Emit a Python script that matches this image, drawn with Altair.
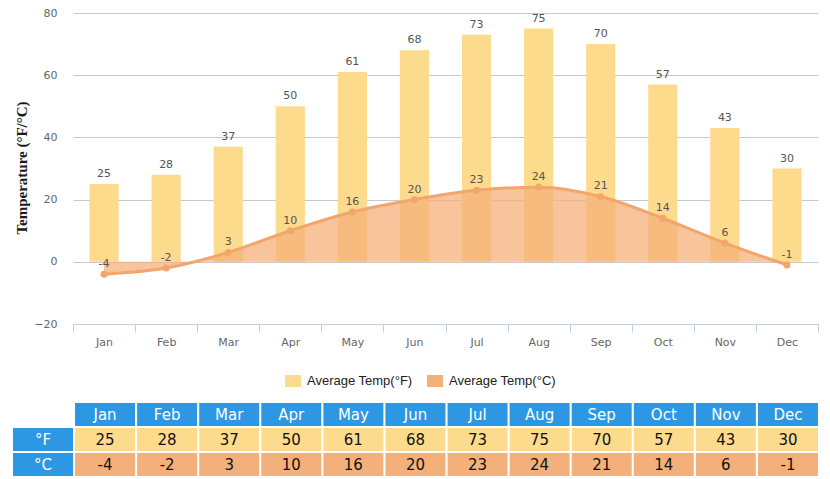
import altair as alt
import pandas as pd

months = ["Jan", "Feb", "Mar", "Apr", "May", "Jun", "Jul", "Aug", "Sep", "Oct", "Nov", "Dec"]
temp_f = [25, 28, 37, 50, 61, 68, 73, 75, 70, 57, 43, 30]
temp_c = [-4, -2, 3, 10, 16, 20, 23, 24, 21, 14, 6, -1]
series_names = ["Average Temp(°F)", "Average Temp(°C)"]
row_labels = ["°F", "°C"]
y_ticks = [-20, 0, 20, 40, 60, 80]

YELLOW = "#FDDB8C"
ORANGE = "#F4B07A"
LINE = "#F3A66C"
BLUE = "#2D97E4"

df = pd.DataFrame({
    "month": months,
    "f": temp_f,
    "c": temp_c,
    "f_txt": [str(v) for v in temp_f],
    "c_txt": [str(v) for v in temp_c],
})

W, H = 745, 311
TOP = 13  # absolute y of the plot top (page margin 8 + padding)


def ty(abs_y):
    return abs_y - TOP


def xenc():
    return alt.X(
        "month:N", sort=months, title=None,
        scale=alt.Scale(type="band", paddingInner=0, paddingOuter=0),
        axis=alt.Axis(labelAngle=0, tickBand="extent", domainColor="#C0D0E0",
                      tickColor="#C0D0E0", tickSize=8, labelColor="#666",
                      labelFont="DejaVu Sans", labelFontSize=11, labelPadding=4,
                      grid=False),
    )


def yenc(field):
    return alt.Y(
        field, title="Temperature (°F/°C)",
        scale=alt.Scale(domain=[-20, 80], nice=False, zero=False),
        axis=alt.Axis(values=y_ticks, domain=False, ticks=False, grid=True,
                      gridColor="#C8C8C8", labelColor="#666",
                      labelFont="DejaVu Sans", labelFontSize=11, labelPadding=16,
                      titleFont="Liberation Serif", titleFontSize=15,
                      titleFontWeight="bold", titleColor="#1a1a1a",
                      titleX=-44, titleY=ty(167.5)),
    )


color_scale = alt.Scale(domain=series_names, range=[YELLOW, ORANGE])
legend = alt.Legend(
    orient="none", legendX=212, legendY=ty(373), direction="horizontal", title=None,
    symbolType="M-1,-0.75H1V0.75H-1Z", symbolSize=256, symbolStrokeWidth=0,
    symbolOpacity=1, labelFont="Liberation Sans", labelFontSize=13,
    labelColor="#222", labelOffset=6, columnPadding=14, padding=0, labelLimit=300,
)


def cenc():
    return alt.Color("s:N", scale=color_scale, legend=legend)


base = alt.Chart(df)

bars = base.transform_calculate(s=f"'{series_names[0]}'").mark_bar(
    width=alt.RelativeBandSize(0.47)
).encode(x=xenc(), y=yenc("f:Q"), y2=alt.datum(0), color=cenc())

area = base.transform_calculate(s=f"'{series_names[1]}'").mark_area(
    opacity=0.75, interpolate="monotone"
).encode(x=xenc(), y=yenc("c:Q"), y2=alt.datum(0), color=cenc())

line = base.mark_line(
    color=LINE, strokeWidth=3, interpolate="monotone",
    point=alt.OverlayMarkDef(filled=True, size=50, color=LINE),
).encode(x=xenc(), y=yenc("c:Q"))

bar_lbl = base.mark_text(dy=-10, font="DejaVu Sans", fontSize=11, color="#555",
                         baseline="middle").encode(x=xenc(), y=yenc("f:Q"), text="f_txt:N")
pt_lbl = base.mark_text(dy=-10, font="DejaVu Sans", fontSize=11, color="#555",
                        baseline="middle").encode(x=xenc(), y=yenc("c:Q"), text="c_txt:N")

# table
header = base.mark_bar(width=60, xOffset=1, color=BLUE).encode(
    x=xenc(), y=alt.value(ty(403)), y2=alt.value(ty(426)))
header_txt = base.mark_text(xOffset=1, color="white", font="DejaVu Sans", fontSize=15,
                            baseline="middle").encode(x=xenc(), y=alt.value(ty(414.5)), text="month:N")
frow = base.mark_bar(width=60, xOffset=1, color=YELLOW).encode(
    x=xenc(), y=alt.value(ty(428)), y2=alt.value(ty(451)))
frow_txt = base.mark_text(xOffset=1, color="#111", font="DejaVu Sans", fontSize=15,
                          baseline="middle").encode(x=xenc(), y=alt.value(ty(439.5)), text="f_txt:N")
crow = base.mark_bar(width=60, xOffset=1, color=ORANGE).encode(
    x=xenc(), y=alt.value(ty(453)), y2=alt.value(ty(476)))
crow_txt = base.mark_text(xOffset=1, color="#111", font="DejaVu Sans", fontSize=15,
                          baseline="middle").encode(x=xenc(), y=alt.value(ty(464.5)), text="c_txt:N")

lab_f = pd.DataFrame({"label": [row_labels[0]]})
lab_c = pd.DataFrame({"label": [row_labels[1]]})
f_cell = alt.Chart(lab_f).mark_rect(color=BLUE).encode(
    x=alt.value(-60), x2=alt.value(0), y=alt.value(ty(428)), y2=alt.value(ty(451)))
f_cell_txt = alt.Chart(lab_f).mark_text(color="white", font="DejaVu Sans", fontSize=15,
                                        baseline="middle").encode(
    x=alt.value(-30), y=alt.value(ty(439.5)), text="label:N")
c_cell = alt.Chart(lab_c).mark_rect(color=BLUE).encode(
    x=alt.value(-60), x2=alt.value(0), y=alt.value(ty(453)), y2=alt.value(ty(476)))
c_cell_txt = alt.Chart(lab_c).mark_text(color="white", font="DejaVu Sans", fontSize=15,
                                        baseline="middle").encode(
    x=alt.value(-30), y=alt.value(ty(464.5)), text="label:N")

chart = alt.layer(
    bars, area, line, bar_lbl, pt_lbl,
    header, header_txt, frow, frow_txt, crow, crow_txt,
    f_cell, f_cell_txt, c_cell, c_cell_txt,
).properties(
    width=W, height=H,
    autosize=alt.AutoSizeParams(type="none"),
    padding={"left": 65, "top": TOP - 8, "right": 4, "bottom": 471 - (TOP - 8) - H},
    background="white",
).configure_view(strokeWidth=0)

chart.save("out.html", embed_options={"renderer": "svg", "actions": False})
